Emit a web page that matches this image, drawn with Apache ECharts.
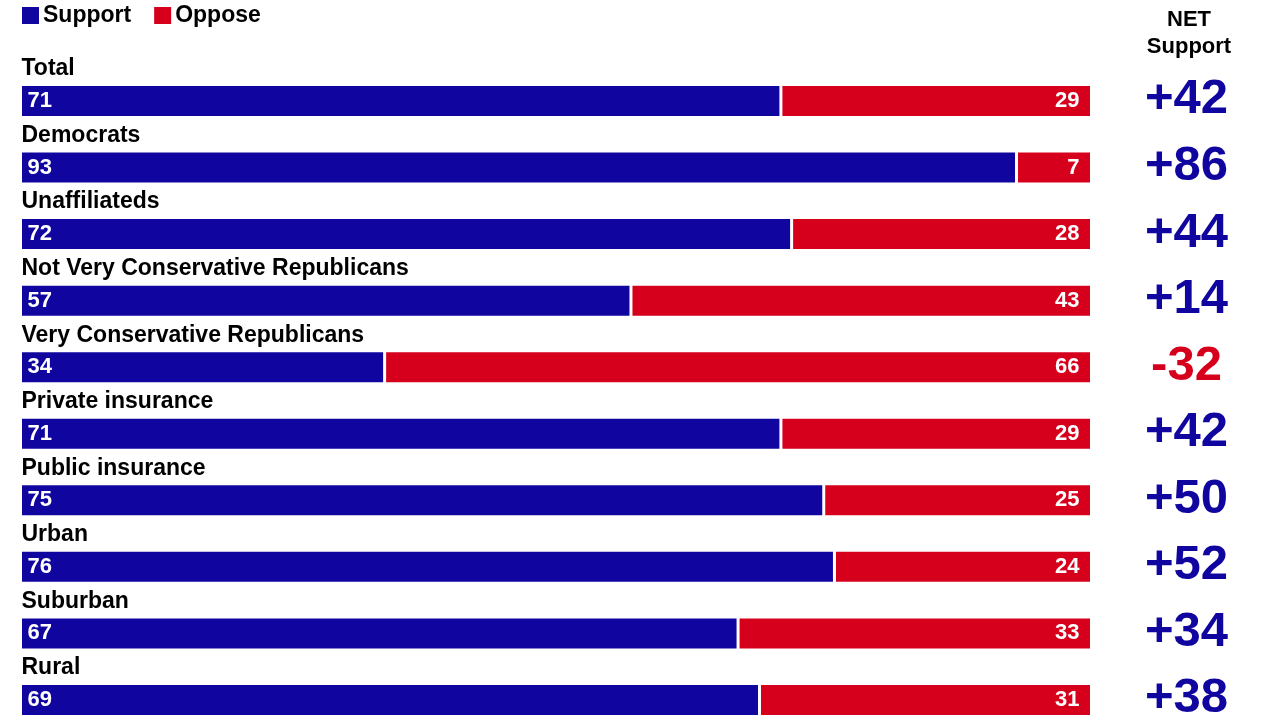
<!DOCTYPE html>
<html>
<head>
<meta charset="utf-8">
<script src="https://cdn.jsdelivr.net/npm/echarts@6/dist/echarts.min.js"></script>
<style>html,body{margin:0;padding:0;background:#fff}#c{width:1266px;height:715px}</style>
</head>
<body>
<div id="c"></div>
<script>
const categories = ["Total","Democrats","Unaffiliateds","Not Very Conservative Republicans","Very Conservative Republicans","Private insurance","Public insurance","Urban","Suburban","Rural"];
const support = [71,93,72,57,34,71,75,76,67,69];
const oppose = [29,7,28,43,66,29,25,24,33,31];
const netSupport = ["+42","+86","+44","+14","-32","+42","+50","+52","+34","+38"];

const BLUE = '#10069F', RED = '#D6001C';
const FONT = '"Liberation Sans", Arial, Helvetica, sans-serif';
const chart = echarts.init(document.getElementById('c'), null, {renderer:'canvas'});
chart.setOption({
  animation:false,
  textStyle:{fontFamily:FONT},
  legend:{
    data:['Support','Oppose'], left:22, top:4, padding:0, itemWidth:17, itemHeight:17, itemGap:23, icon:'rect',
    itemStyle:{borderWidth:0},
    textStyle:{fontFamily:FONT, fontWeight:'bold', fontSize:23, color:'#000', padding:[0,0,0,-1]}
  },
  graphic:[{type:'text', position:[1189,6], style:{text:'NET\nSupport', x:0, y:0, fill:'#000', font:'bold 22px '+FONT, textAlign:'center', lineHeight:27}}],
  grid:{left:20.5, top:67.7, width:1071, height:665.5, outerBoundsMode:'none'},
  xAxis:{type:'value', min:0, max:100, show:false},
  yAxis:[
    {type:'category', data:categories, inverse:true, axisLine:{show:false}, axisTick:{show:false}, axisLabel:{show:false}},
    {type:'category', data:categories, inverse:true, position:'right', axisLine:{show:false}, axisTick:{show:false},
      axisLabel:{show:true, margin:95, align:'center', verticalAlign:'middle', padding:[0,0,2,0],
        formatter:function(v, i){ const n = netSupport[i]; return n.charAt(0)==='-' ? '{neg|'+n+'}' : '{pos|'+n+'}'; },
        rich:{
          pos:{fontFamily:FONT, fontWeight:'bold', fontSize:49, color:BLUE},
          neg:{fontFamily:FONT, fontWeight:'bold', fontSize:49, color:RED}
        }}}
  ],
  series:[
    {name:'label', type:'bar', barWidth:33, barGap:'-100%', silent:true, z:1,
      data:categories.map(()=>100), itemStyle:{color:'rgba(0,0,0,0)'},
      label:{show:true, position:[1,-4], align:'left', verticalAlign:'bottom',
        formatter:function(p){return categories[p.dataIndex];},
        fontFamily:FONT, fontWeight:'bold', fontSize:23, color:'#000'}},
    {name:'Support', type:'bar', stack:'s', barWidth:33, z:2, data:support,
      itemStyle:{color:BLUE, borderColor:'#fff', borderWidth:1.5},
      label:{show:true, position:'insideLeft', distance:7, fontFamily:FONT, fontWeight:'bold', fontSize:22, color:'#fff'}},
    {name:'Oppose', type:'bar', stack:'s', barWidth:33, z:2, data:oppose,
      itemStyle:{color:RED, borderColor:'#fff', borderWidth:1.5},
      label:{show:true, position:'insideRight', distance:12, fontFamily:FONT, fontWeight:'bold', fontSize:22, color:'#fff'}}
  ]
});
</script>
</body>
</html>
